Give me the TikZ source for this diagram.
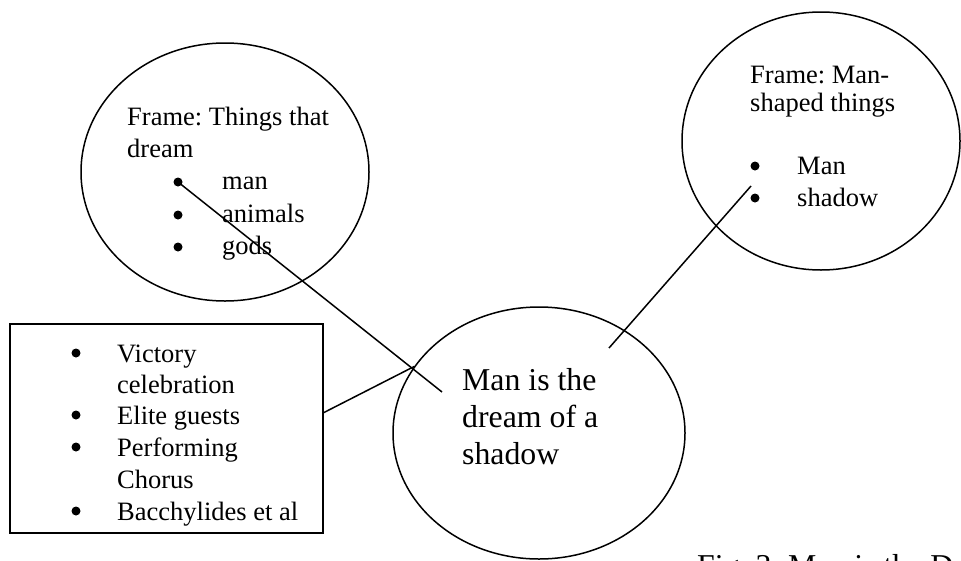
\documentclass[tikz,border=0pt]{standalone}
\usepackage{fontspec}
\setmainfont{Liberation Serif}
\usetikzlibrary{shapes.geometric}
\frenchspacing

\tikzset{
  frame/.style={draw, ellipse, line width=1.5pt, inner sep=0pt},
  listbox/.style={draw, rectangle, line width=1.5pt, inner sep=0pt, anchor=north west},
  bul/.style={circle, fill=black, inner sep=0pt, minimum size=9pt},
  txt/.style={anchor=base west, inner sep=0pt, font=\fontsize{26.5}{32}\selectfont},
  bigtxt/.style={anchor=base west, inner sep=0pt, font=\fontsize{31.8}{37}\selectfont},
  link/.style={line width=1.5pt}
}

\begin{document}
\begin{tikzpicture}[x=1pt,y=-1pt]
  \fill[white] (0,0) rectangle (961,560);
  \clip (0,0) rectangle (961,560);
  \useasboundingbox (0,0) rectangle (961,560);

  % the three frames and the list box
  \node[frame, minimum width=288pt, minimum height=258pt] (dreamers) at (225,172) {};
  \node[frame, minimum width=278pt, minimum height=258pt] (shapes) at (821,141) {};
  \node[frame, minimum width=292pt, minimum height=252pt] (mid) at (539,433) {};
  \node[listbox, minimum width=313pt, minimum height=209pt] (box) at (9,323) {};

  % frame: things that dream
  \node[txt] (d1) at (127,125) {Frame: Things that};
  \node[txt] (d2) at (127,157) {dream};
  \node[bul] (bman) at (178,182) {};
  \node[bul] (banim) at (178,215) {};
  \node[bul] (bgods) at (178,247) {};
  \node[txt] (tman) at (222,189) {man};
  \node[txt] (tanim) at (222,222) {animals};
  \node[txt] (tgods) at (222,254) {gods};

  % frame: man-shaped things
  \node[txt] (s1) at (750,83) {Frame: Man-};
  \node[txt] (s2) at (750,111) {shaped things};
  \node[bul] (bsman) at (755,166) {};
  \node[bul] (bshadow) at (755,198) {};
  \node[txt] (tsman) at (797,174) {Man};
  \node[txt] (tshadow) at (797,206) {shadow};

  % context list
  \node[bul] (c1) at (76,353) {};
  \node[txt] (k1) at (117,362) {Victory};
  \node[txt] (k1b) at (117,393) {celebration};
  \node[bul] (c2) at (76,415) {};
  \node[txt] (k2) at (117,424) {Elite guests};
  \node[bul] (c3) at (76,447) {};
  \node[txt] (k3) at (117,456) {Performing};
  \node[txt] (k3b) at (117,488) {Chorus};
  \node[bul] (c4) at (76,511) {};
  \node[txt] (k4) at (117,520) {Bacchylides et al};

  % central metaphor
  \node[bigtxt] (m1) at (462,390) {Man is the};
  \node[bigtxt] (m2) at (462,427) {dream of a};
  \node[bigtxt] (m3) at (462,464) {shadow};

  % caption, running off the page bottom
  \node[bigtxt] (cap) at (697,576) {Fig. 3: Man is the D};

  % connectors
  \coordinate (inA) at (442,392);
  \coordinate (inB) at (609,348);
  \coordinate (nearShadow) at (751,186);
  \draw[link] (bman.center) -- (inA);
  \draw[link] ([yshift=15.5pt]box.east) -- (mid.152.7);
  \draw[link] (inB) -- (nearShadow);
\end{tikzpicture}
\end{document}
